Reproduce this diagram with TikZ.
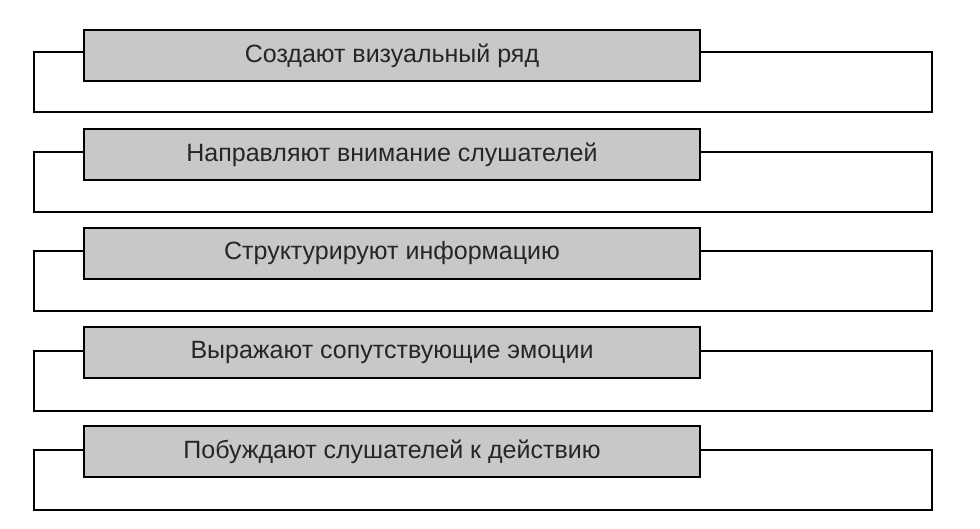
\documentclass[tikz,border=0pt]{standalone}
\usepackage{fontspec}
\setmainfont{Liberation Sans}
\definecolor{boxgray}{RGB}{200,200,200}
\tikzset{
  outerbox/.style={draw=black, line width=2pt, fill=white, minimum width=898pt, minimum height=60pt, inner sep=0pt, anchor=north west},
  graybox/.style={draw=black, line width=2pt, fill=boxgray, minimum width=616pt, minimum height=51pt, inner sep=0pt, anchor=north west, font=\fontsize{25}{28}\selectfont, text=black!85},
}
\begin{document}
\begin{tikzpicture}[x=1pt,y=-1pt]
\path[fill=white] (0,0) rectangle (980,528);
\useasboundingbox (0,0) rectangle (980,528);
\foreach \i/\t in {0/{Создают визуальный ряд},1/{Направляют внимание слушателей},2/{Структурируют информацию},3/{Выражают сопутствующие эмоции},4/{Побуждают слушателей к действию}}{
  \node[outerbox] (o\i) at (33,{51+99.5*\i}) {};
  \node[graybox] (g\i) at (83,{29+99*\i}) {\raisebox{2pt}{\t}};
}
\end{tikzpicture}
\end{document}
